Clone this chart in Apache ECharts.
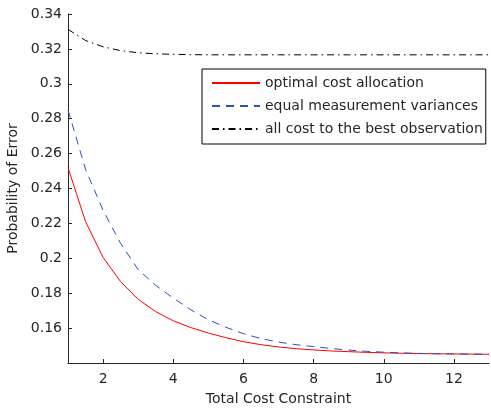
<!DOCTYPE html>
<html>
<head>
<meta charset="utf-8">
<script src="https://cdn.jsdelivr.net/npm/echarts@6/dist/echarts.min.js"></script>
<style>
  html, body { margin: 0; padding: 0; background: #fff; }
  #main { width: 491px; height: 409px; }
</style>
</head>
<body>
<div id="main"></div>
<script>
// total cost constraint (x)
let costs = [1, 1.5, 2, 2.5, 3, 3.5, 4, 4.5, 5, 5.5, 6, 6.5, 7, 7.5, 8, 8.5, 9, 9.5, 10, 10.5, 11, 11.5, 12, 12.5, 13];

let optimal = [0.252, 0.221, 0.2005, 0.1866, 0.1765, 0.1694, 0.1642, 0.1603, 0.1572, 0.1545, 0.1522, 0.1505, 0.1492,
  0.1482, 0.1475, 0.1469, 0.1465, 0.1461, 0.1458, 0.1456, 0.1454, 0.1453, 0.1452, 0.1451, 0.1450];

let equalVar = [0.285, 0.251, 0.2275, 0.2085, 0.1935, 0.1845, 0.1772, 0.1705, 0.1648, 0.1605, 0.1568, 0.1540, 0.1520,
  0.1505, 0.1494, 0.1483, 0.1474, 0.1467, 0.1462, 0.1458, 0.1455, 0.1453, 0.1452, 0.1451, 0.1450];

let bestObs = [0.3312, 0.3248, 0.3212, 0.3190, 0.3178, 0.3172, 0.3169, 0.3167, 0.3166, 0.3166, 0.3166, 0.3166, 0.3166,
  0.3166, 0.3166, 0.3166, 0.3166, 0.3166, 0.3166, 0.3166, 0.3166, 0.3166, 0.3166, 0.3166, 0.3166];

let xTicks = [2, 4, 6, 8, 10, 12];
let yTicks = [0.16, 0.18, 0.2, 0.22, 0.24, 0.26, 0.28, 0.3, 0.32, 0.34];

let names = ['optimal cost allocation', 'equal measurement variances', 'all cost to the best observation'];

function pairs(ys) {
  return costs.map((x, i) => [x, ys[i]]);
}

let axisColor = '#262626';
let font = 'DejaVu Sans, sans-serif';

let chart = echarts.init(document.getElementById('main'), null, { renderer: 'canvas' });

let option = {
  animation: false,
  backgroundColor: '#fff',
  textStyle: { fontFamily: font },
  grid: { left: 68, right: 2, top: 14, bottom: 46, containLabel: false, outerBoundsMode: 'none' },
  legend: {
    orient: 'vertical',
    left: 202,
    top: 69,
    padding: [7, 3, 8, 9],
    itemGap: 9,
    itemWidth: 48,
    itemHeight: 14,
    backgroundColor: '#fff',
    borderColor: '#000',
    borderWidth: 1,
    borderRadius: 0,
    itemStyle: { opacity: 0 },
    data: names,
    textStyle: { fontSize: 14, color: axisColor, fontFamily: font }
  },
  xAxis: {
    type: 'value',
    min: 1,
    max: 13,
    name: 'Total Cost Constraint',
    nameLocation: 'middle',
    nameGap: 29,
    nameTextStyle: { fontSize: 14, color: axisColor },
    axisLine: { lineStyle: { color: axisColor, width: 1 } },
    axisTick: { inside: true, length: 4, customValues: xTicks, lineStyle: { color: axisColor } },
    axisLabel: { customValues: xTicks, fontSize: 14, color: axisColor, margin: 9 },
    splitLine: { show: false }
  },
  yAxis: {
    type: 'value',
    min: 0.14,
    max: 0.34,
    name: 'Probability of Error',
    nameLocation: 'middle',
    nameGap: 44,
    nameTextStyle: { fontSize: 14, color: axisColor },
    axisLine: { show: true, lineStyle: { color: axisColor, width: 1 } },
    axisTick: { show: true, inside: true, length: 4, customValues: yTicks, lineStyle: { color: axisColor } },
    axisLabel: { customValues: yTicks, fontSize: 14, color: axisColor, margin: 6 },
    splitLine: { show: false }
  },
  series: [
    {
      name: names[0],
      type: 'line',
      data: pairs(optimal),
      showSymbol: false,
      symbol: 'none',
      lineStyle: { color: '#ff0000', width: 1, type: 'solid' },
      itemStyle: { color: '#ff0000' }
    },
    {
      name: names[1],
      type: 'line',
      data: pairs(equalVar),
      showSymbol: false,
      symbol: 'none',
      lineStyle: { color: '#2a52be', width: 1, type: [8, 6] },
      itemStyle: { color: '#2a52be' }
    },
    {
      name: names[2],
      type: 'line',
      data: pairs(bestObs),
      showSymbol: false,
      symbol: 'none',
      lineStyle: { color: '#000', width: 1, type: [7, 4, 1.5, 4] },
      itemStyle: { color: '#000' }
    }
  ]
};

chart.setOption(option);
</script>
</body>
</html>
